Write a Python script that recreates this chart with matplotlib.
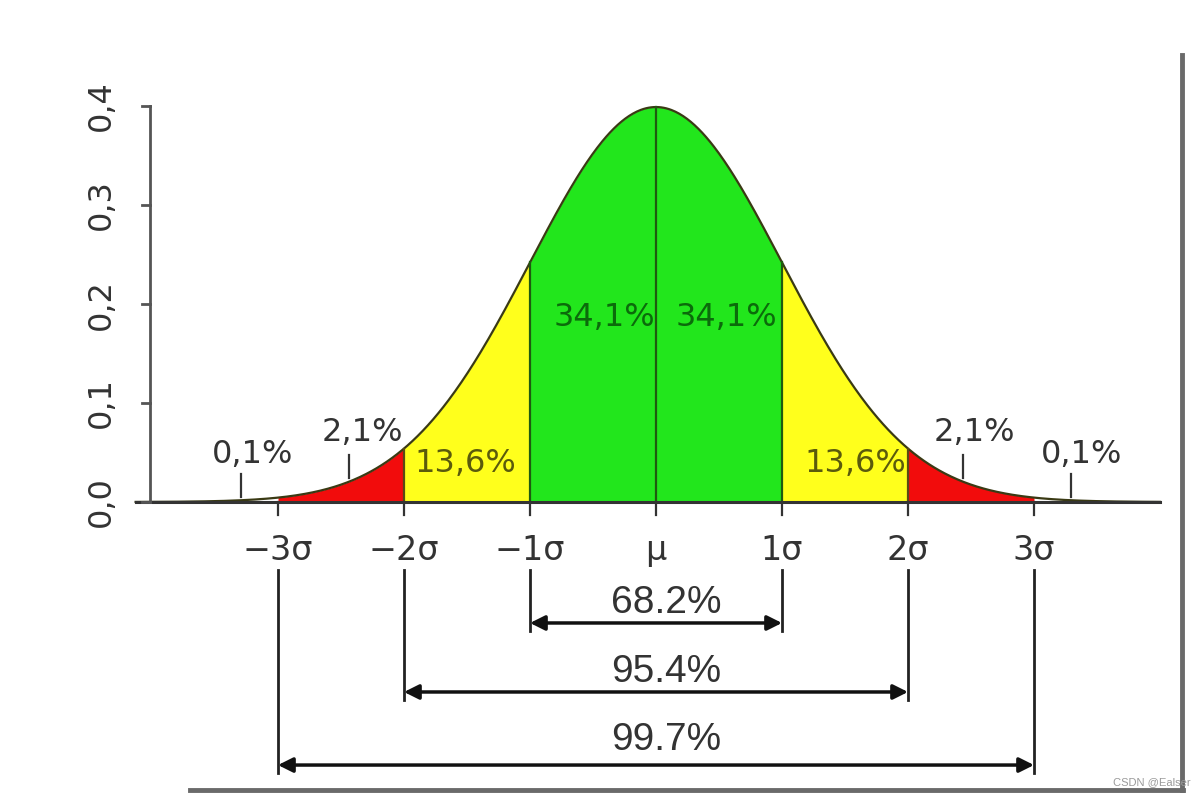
import numpy as np
import matplotlib
matplotlib.use("Agg")
import matplotlib.pyplot as plt
from matplotlib.lines import Line2D

# ---- data ----
sigma_ticks = [-3, -2, -1, 0, 1, 2, 3]
sigma_labels = ["−3σ", "−2σ", "−1σ", "μ", "1σ", "2σ", "3σ"]
y_ticks = [0.0, 0.1, 0.2, 0.3, 0.4]
y_labels = ["0,0", "0,1", "0,2", "0,3", "0,4"]
band_edges = [(-3, -2), (-2, -1), (-1, 0), (0, 1), (1, 2), (2, 3)]
band_colors = ["#f20c0c", "#ffff1c", "#22e61c", "#22e61c", "#ffff1c", "#f20c0c"]
pct_labels = ["0,1%", "2,1%", "13,6%", "34,1%", "34,1%", "13,6%", "2,1%", "0,1%"]
pct_x = [-3.2, -2.33, -1.51, -0.41, 0.56, 1.58, 2.53, 3.38]
pct_y = [0.0475, 0.0697, 0.039, 0.186, 0.186, 0.039, 0.070, 0.0475]
pct_colors = ["#333333", "#333333", "#5a5a0c", "#0b6b0b", "#0b6b0b", "#5a5a0c", "#333333", "#333333"]
pointer_x = [-3.29, -2.44, 2.44, 3.29]
range_labels = ["68.2%", "95.4%", "99.7%"]
range_k = [1, 2, 3]
range_arrow_y = [-0.1222, -0.1919, -0.2657]
range_text_y = [-0.102, -0.172, -0.240]

def pdf(x):
    return np.exp(-x ** 2 / 2) / np.sqrt(2 * np.pi)

fig = plt.figure(figsize=(12.04, 7.97), dpi=100)
ax = fig.add_axes([0, 0, 1, 1])
ax.set_xlim(-656 / 126, (1204 - 656) / 126)
ax.set_ylim((502 - 797) / 990, 502 / 990)
ax.axis("off")

# filled bands
for (a, b), c in zip(band_edges, band_colors):
    xs = np.linspace(a, b, 200)
    ax.fill_between(xs, 0, pdf(xs), color=c, lw=0, zorder=1)

# curve
xc = np.linspace(-4.13, 4.0, 800)
ax.plot(xc, pdf(xc), color="#3a3a14", lw=1.6, zorder=3)

# vertical separators
for xv in [-2, -1, 0, 1, 2]:
    col = "#1f5a10" if abs(xv) <= 1 else "#5a4a14"
    ax.plot([xv, xv], [0, pdf(xv)], color=col, lw=1.6, zorder=3)

# axes lines
ax.plot([-4.13, 4.0], [0, 0], color="#333333", lw=2.2, zorder=4)
yax_x = (150 - 656) / 126
ax.plot([yax_x, yax_x], [0, 0.4], color="#555555", lw=2, zorder=4)
for yt, yl in zip(y_ticks, y_labels):
    ax.plot([yax_x - 0.06, yax_x], [yt, yt], color="#555555", lw=2, zorder=4)
    ax.text((101 - 656) / 126, yt, yl, rotation=90, ha="center", va="center",
            fontsize=23, color="#333333", family="DejaVu Sans")

# sigma ticks and labels
for xt, lab in zip(sigma_ticks, sigma_labels):
    ax.plot([xt, xt], [0, -0.013], color="#333333", lw=1.6, zorder=4)
    ax.text(xt, -0.0485, lab, ha="center", va="center", fontsize=24,
            color="#333333", family="DejaVu Sans")

# percentage labels
for lab, x, y, c in zip(pct_labels, pct_x, pct_y, pct_colors):
    ax.text(x, y, lab, ha="center", va="center", fontsize=23, color=c,
            family="DejaVu Sans", zorder=5)

# pointer ticks
for px in pointer_x:
    yb = 0.005 if abs(px) > 3 else 0.024
    ax.plot([px, px], [yb, yb + 0.023], color="#333333", lw=1.6, zorder=4)

# range arrows
for k, lab, ya, yt in zip(range_k, range_labels, range_arrow_y, range_text_y):
    for s in (-1, 1):
        ax.plot([s * k, s * k], [-0.0687, ya - 0.008], color="#222222", lw=2, zorder=4)
    ax.annotate("", xy=(k, ya), xytext=(-k, ya),
                arrowprops=dict(arrowstyle="<|-|>", color="#111111", lw=2.5,
                                mutation_scale=22, shrinkA=0, shrinkB=0))
    ax.text(0.08, yt, lab, ha="center", va="center", fontsize=28,
            color="#333333", family="Liberation Sans")

# image frame lines
fig.add_artist(Line2D([1182 / 1204, 1182 / 1204], [1 - 55 / 797, 1 - 790 / 797],
                      color="#6a6a6a", lw=3.5))
fig.add_artist(Line2D([190 / 1204, 1183 / 1204], [1 - 790 / 797, 1 - 790 / 797],
                      color="#6a6a6a", lw=3.5))

# watermark
fig.text(1113 / 1204, 1 - 782 / 797, "CSDN @Ealser", fontsize=8, color="#9a9a9a",
         ha="left", va="center", family="Liberation Sans")

fig.savefig("out.png", dpi=100)
